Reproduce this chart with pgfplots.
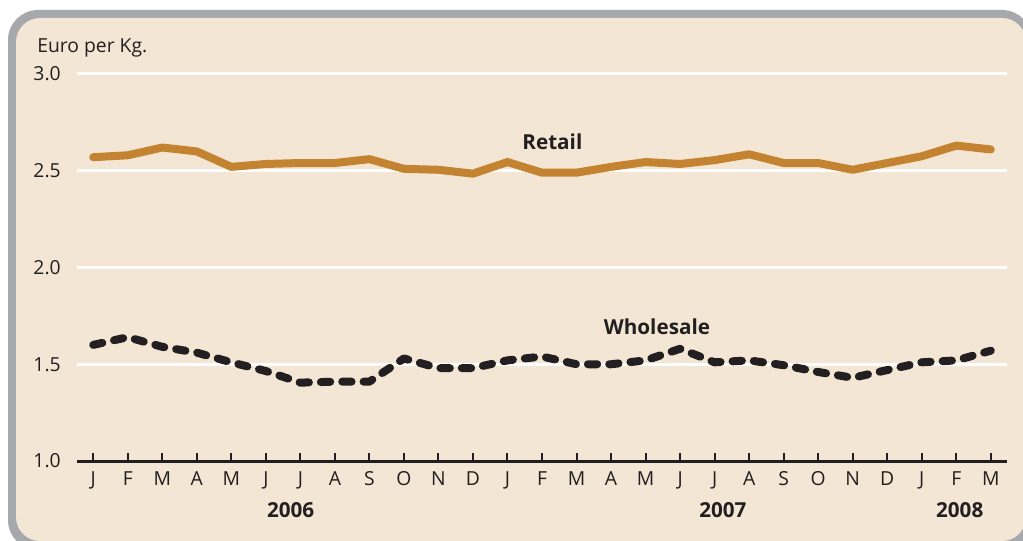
\documentclass[border=0pt]{standalone}
\usepackage{pgfplots}
\usepackage{pgfplotstable}
\pgfplotsset{compat=1.18}
\usepackage{fontspec}
\setmainfont{Open Sans}
\definecolor{bg}{HTML}{F3E6D4}
\definecolor{framegray}{HTML}{A6A8AB}
\definecolor{retailc}{HTML}{C38330}
\definecolor{darkc}{HTML}{231F20}

\pgfplotstableread{
x retail wholesale
0 2.57 1.60
1 2.58 1.64
2 2.62 1.59
3 2.60 1.56
4 2.52 1.51
5 2.535 1.465
6 2.54 1.405
7 2.54 1.41
8 2.56 1.41
9 2.51 1.53
10 2.505 1.48
11 2.485 1.48
12 2.545 1.52
13 2.49 1.54
14 2.49 1.50
15 2.52 1.50
16 2.545 1.52
17 2.535 1.58
18 2.555 1.51
19 2.585 1.52
20 2.54 1.495
21 2.54 1.46
22 2.505 1.43
23 2.54 1.47
24 2.575 1.51
25 2.63 1.52
26 2.61 1.57
}\data

\begin{document}
\begin{tikzpicture}[x=0.75pt,y=0.75pt]
\useasboundingbox (0,0) rectangle (1023,540);
\begin{scope}
\clip (0,0) rectangle (1023,540);
\fill[framegray, rounded corners=22.5pt] (8,-10) rectangle (1032,530);
\fill[bg, rounded corners=18pt] (16,-1) rectangle (1026,522);
\end{scope}
\node[anchor=base west, inner sep=0pt, font=\fontsize{14.5}{16}\selectfont, text=darkc] at (37,487) {Euro per Kg.};
\begin{axis}[
  at={(57.75pt,59.25pt)}, anchor=south west,
  width=697.5pt, height=290.25pt, scale only axis,
  xmin=-0.47, xmax=26.47, ymin=1, ymax=3,
  clip=false,
  axis x line*=bottom, axis y line*=left,
  x axis line style={darkc, line width=2.25pt, -},
  y axis line style={draw=none},
  xtick={0,...,26},
  xticklabels={J,F,M,A,M,J,J,A,S,O,N,D,J,F,M,A,M,J,J,A,S,O,N,D,J,F,M},
  xtick align=inside,
  major tick length=6pt,
  xtick style={darkc, line width=1.5pt},
  ytick={1,1.5,2,2.5,3},
  ytick style={draw=none},
  yticklabel style={/pgf/number format/fixed, /pgf/number format/fixed zerofill, /pgf/number format/precision=1},
  /pgf/number format/assume math mode=true,
  ticklabel style={font=\fontsize{14.5}{16}\selectfont, text=darkc},
  yticklabel style={anchor=east, inner sep=0pt, xshift=-12pt},
  xticklabel style={anchor=north, inner sep=0pt, yshift=-8pt},
  ymajorgrids,
  grid style={white, line width=2.25pt},
]
\addplot[retailc, line width=6pt, line cap=round, line join=round] table[x=x, y=retail] {\data};
\addplot[darkc, line width=6pt, line cap=round, line join=round, dash pattern=on 7pt off 9pt] table[x=x, y=wholesale] {\data};
\node[anchor=base, font=\fontsize{15.5}{17}\selectfont\bfseries, text=darkc] at (axis cs:13.3,2.608) {Retail};
\node[anchor=base, font=\fontsize{15.5}{17}\selectfont\bfseries, text=darkc] at (axis cs:16.33,1.655) {Wholesale};
\node[anchor=base, font=\fontsize{15.5}{17}\selectfont\bfseries, text=darkc] at (axis cs:5.72,0.706) {2006};
\node[anchor=base, font=\fontsize{15.5}{17}\selectfont\bfseries, text=darkc] at (axis cs:18.24,0.706) {2007};
\node[anchor=base, font=\fontsize{15.5}{17}\selectfont\bfseries, text=darkc] at (axis cs:25.1,0.706) {2008};
\end{axis}
\end{tikzpicture}
\end{document}
